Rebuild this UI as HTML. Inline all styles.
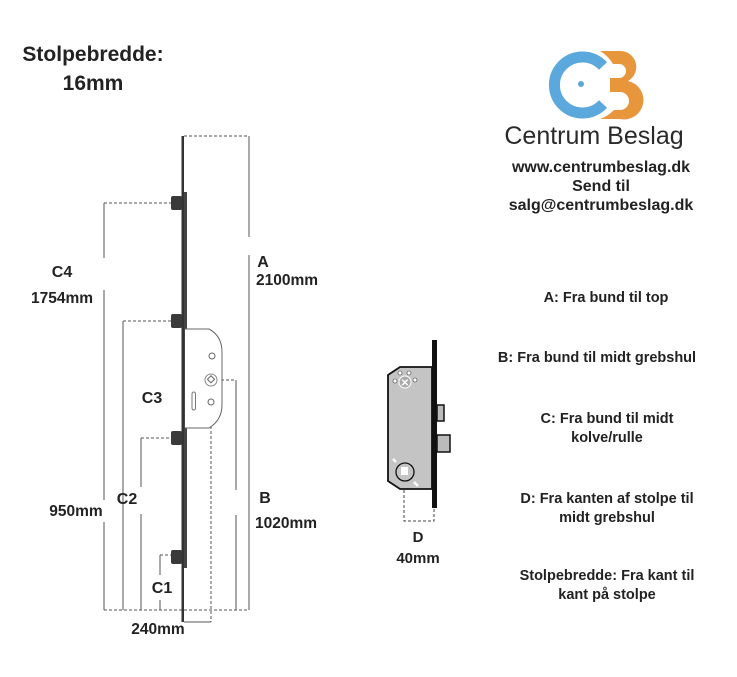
<!DOCTYPE html>
<html><head><meta charset="utf-8"><style>
body{margin:0;background:#fff;width:737px;height:672px;overflow:hidden}
text{font-family:"Liberation Sans",sans-serif;font-weight:bold;fill:#222}
</style></head><body>
<svg width="737" height="672" viewBox="0 0 737 672">
<g stroke="#555" stroke-width="1" fill="none">
<line x1="184" y1="136" x2="249" y2="136" stroke-dasharray="3,2"/>
<line x1="249" y1="136" x2="249" y2="237"/>
<line x1="249" y1="255" x2="249" y2="610"/>
<line x1="216" y1="380" x2="236" y2="380" stroke-dasharray="3,2"/>
<line x1="236" y1="380" x2="236" y2="490"/>
<line x1="236" y1="515" x2="236" y2="610"/>
<line x1="104" y1="203" x2="172" y2="203" stroke-dasharray="3,2"/>
<line x1="104" y1="203" x2="104" y2="258"/>
<line x1="104" y1="290" x2="104" y2="500"/>
<line x1="104" y1="522" x2="104" y2="610"/>
<line x1="123" y1="321" x2="172" y2="321" stroke-dasharray="3,2"/>
<line x1="123" y1="321" x2="123" y2="610"/>
<line x1="141" y1="438" x2="172" y2="438" stroke-dasharray="3,2"/>
<line x1="141" y1="438" x2="141" y2="487"/>
<line x1="141" y1="514" x2="141" y2="610"/>
<line x1="160" y1="555" x2="172" y2="555" stroke-dasharray="3,2"/>
<line x1="160" y1="555" x2="160" y2="575"/>
<line x1="160" y1="600" x2="160" y2="610"/>
<line x1="104" y1="610" x2="249" y2="610" stroke-dasharray="3,2"/>
<line x1="211" y1="386" x2="211" y2="622" stroke-dasharray="3,2"/>
<line x1="184" y1="622" x2="211" y2="622"/>
</g>
<rect x="181.5" y="136" width="2.5" height="486" fill="#333"/>
<rect x="184" y="192" width="3" height="376" fill="#444"/>
<g fill="#3a3a3a">
<rect x="171" y="196" width="11" height="14" rx="2"/>
<rect x="171" y="314" width="11" height="14" rx="2"/>
<rect x="171" y="431" width="11" height="14" rx="2"/>
<rect x="171" y="550" width="11" height="14" rx="2"/>
</g>
<path d="M185 329 H209 Q222 336 222 352 V405 Q222 420 209 428 H185" fill="#fff" stroke="#666" stroke-width="1"/>
<circle cx="212" cy="356" r="3" fill="none" stroke="#666"/>
<circle cx="211" cy="380" r="6" fill="none" stroke="#888"/>
<rect x="208" y="377" width="5" height="5" fill="none" stroke="#666" transform="rotate(45 211 380)"/>
<circle cx="211" cy="402" r="3" fill="none" stroke="#666"/>
<rect x="192" y="392" width="3.5" height="18" rx="1.7" fill="none" stroke="#777"/>
<text x="62" y="277" font-size="16" text-anchor="middle">C4</text>
<text x="62" y="303" font-size="15.5" text-anchor="middle">1754mm</text>
<text x="152" y="403" font-size="16" text-anchor="middle">C3</text>
<text x="127" y="504" font-size="16" text-anchor="middle">C2</text>
<text x="76" y="516" font-size="15.5" text-anchor="middle">950mm</text>
<text x="162" y="593" font-size="16" text-anchor="middle">C1</text>
<text x="158" y="634" font-size="15.5" text-anchor="middle">240mm</text>
<text x="263" y="267" font-size="16" text-anchor="middle">A</text>
<text x="287" y="285" font-size="15.5" text-anchor="middle">2100mm</text>
<text x="265" y="503" font-size="16" text-anchor="middle">B</text>
<text x="286" y="528" font-size="15.5" text-anchor="middle">1020mm</text>
<text x="93" y="61" font-size="21" text-anchor="middle">Stolpebredde:</text>
<text x="93" y="90" font-size="21" text-anchor="middle">16mm</text>
<path d="M404 480 V521 H434 V508" fill="none" stroke="#444" stroke-dasharray="3,2"/>
<rect x="432" y="340" width="5" height="168" fill="#111"/>
<rect x="437" y="405" width="7" height="16" fill="#bbb" stroke="#111" stroke-width="1.5"/>
<rect x="437" y="435" width="13" height="17" fill="#bbb" stroke="#111" stroke-width="1.5"/>
<path d="M388 375 L400 367 H432 V489 H400 L388 481 Z" fill="#c4c4c4" stroke="#111" stroke-width="1.8"/>
<circle cx="405" cy="382" r="6" fill="#aaa" stroke="#fff" stroke-width="1"/>
<text x="405" y="386" font-size="10" text-anchor="middle" style="fill:#fff">✕</text>
<g fill="#fff" stroke="#333" stroke-width="0.6"><circle cx="395" cy="381" r="2"/><circle cx="400" cy="373" r="2"/><circle cx="409" cy="373" r="2"/><circle cx="415" cy="380" r="2"/></g>
<circle cx="405" cy="472" r="9" fill="#c4c4c4" stroke="#111" stroke-width="1.3"/>
<rect x="401" y="467" width="7" height="8" fill="#fff"/>
<line x1="393" y1="459" x2="396" y2="462" stroke="#fff" stroke-width="2.5"/>
<line x1="414" y1="482" x2="418" y2="486" stroke="#fff" stroke-width="2.5"/>
<text x="418" y="542" font-size="15" text-anchor="middle">D</text>
<text x="418" y="563" font-size="15" text-anchor="middle">40mm</text>
<!-- logo -->
<path d="M600 51 H620 A16 16 0 0 1 628 81 A19 19 0 0 1 620 119 H600 A36 36 0 0 0 614 110 H620 A9 9 0 0 0 620 92 H610 V78 H619 A7 7 0 0 0 619 64 H613 A36 36 0 0 0 600 51 Z" fill="#e8963c"/>
<path d="M603 66 A28 28 0 1 0 603 104" fill="none" stroke="#5aa8dc" stroke-width="11"/>
<circle cx="581" cy="84" r="3" fill="#5aa8dc"/>
<text x="594" y="144" font-size="25" text-anchor="middle" style="font-weight:normal;fill:#2a2a2a">Centrum Beslag</text>
<text x="601" y="172" font-size="16" text-anchor="middle">www.centrumbeslag.dk</text>
<text x="601" y="191" font-size="16" text-anchor="middle">Send til</text>
<text x="601" y="210" font-size="16" text-anchor="middle">salg@centrumbeslag.dk</text>
<text x="606" y="302" font-size="14.5" text-anchor="middle">A: Fra bund til top</text>
<text x="597" y="362" font-size="14.5" text-anchor="middle">B: Fra bund til midt grebshul</text>
<text x="607" y="423" font-size="14.5" text-anchor="middle">C: Fra bund til midt</text>
<text x="607" y="442" font-size="14.5" text-anchor="middle">kolve/rulle</text>
<text x="607" y="503" font-size="14.5" text-anchor="middle">D: Fra kanten af stolpe til</text>
<text x="607" y="522" font-size="14.5" text-anchor="middle">midt grebshul</text>
<text x="607" y="580" font-size="14.5" text-anchor="middle">Stolpebredde: Fra kant til</text>
<text x="607" y="599" font-size="14.5" text-anchor="middle">kant på stolpe</text>
</svg>
</body></html>
